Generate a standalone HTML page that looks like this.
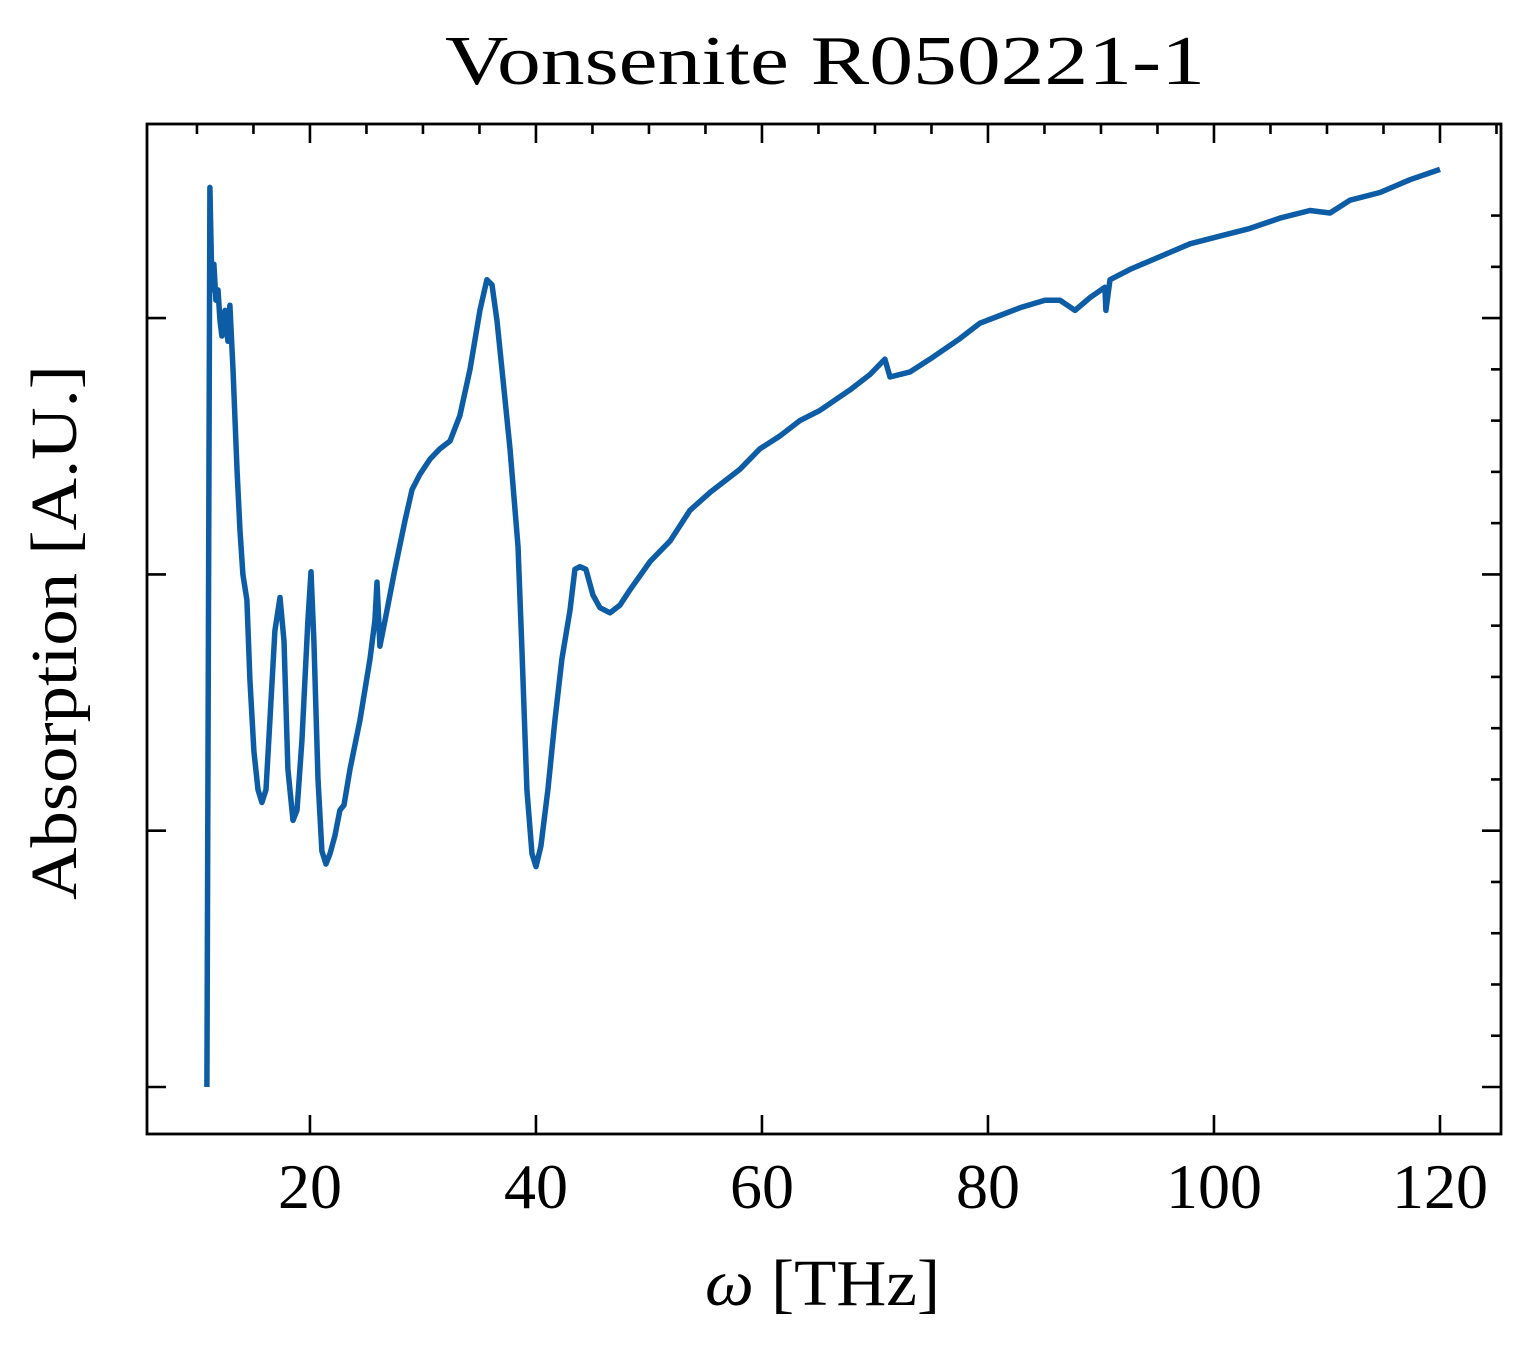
<!DOCTYPE html>
<html><head><meta charset="utf-8"><style>
html,body{margin:0;padding:0;background:#fff;}
svg text{font-family:"Liberation Serif","DejaVu Serif",serif;fill:#000;}
</style></head><body>
<svg id="chart" width="1527" height="1345" viewBox="0 0 1527 1345" xmlns="http://www.w3.org/2000/svg">
<text x="445" y="84" font-size="70" textLength="760" lengthAdjust="spacingAndGlyphs">Vonsenite R050221-1</text>
<text x="705" y="1305" font-size="66" textLength="235" lengthAdjust="spacingAndGlyphs"><tspan font-style="italic">ω</tspan> [THz]</text>
<text transform="translate(76,900) rotate(-90)" font-size="66" textLength="535" lengthAdjust="spacingAndGlyphs">Absorption [A.U.]</text>
<g id="ticks"></g>
<path id="series" fill="none" stroke="#0C5DA5" stroke-width="5.5" stroke-linejoin="round"/>
<rect x="147" y="124" width="1354" height="1010" fill="none" stroke="#000" stroke-width="2.8"/>
</svg>
<script>
const freqs=[10.88,11.15,11.33,11.50,11.68,11.86,12.04,12.21,12.48,12.74,12.92,13.19,13.54,13.81,14.07,14.42,14.69,15.04,15.40,15.75,16.11,16.46,16.90,17.35,17.70,18.05,18.50,18.85,19.29,19.82,20.09,20.35,20.71,21.06,21.42,21.77,22.21,22.65,23.01,23.54,24.42,25.31,25.75,25.93,26.19,26.64,27.52,28.41,29.03,29.73,30.62,31.50,32.39,33.27,34.16,35.04,35.66,36.11,36.55,37.08,37.70,38.41,38.76,39.20,39.65,40.00,40.44,41.06,41.68,42.30,43.01,43.45,43.89,44.42,45.04,45.66,46.55,47.43,48.32,50.09,51.86,53.63,55.40,58.05,59.82,61.59,63.36,65.13,67.79,69.56,70.88,71.33,73.10,74.87,77.52,79.29,81.06,82.83,85.04,86.37,87.70,89.03,90.35,90.44,90.80,92.57,95.22,97.88,100.53,103.19,105.84,108.50,110.27,112.04,114.69,117.35,120.00];
const absorption=[0,3.51,3.11,3.21,3.07,3.11,2.99,2.93,3.03,2.91,3.05,2.80,2.41,2.17,2.00,1.90,1.59,1.31,1.16,1.11,1.16,1.43,1.78,1.91,1.74,1.24,1.04,1.08,1.35,1.82,2.01,1.74,1.20,0.92,0.87,0.91,0.98,1.08,1.10,1.24,1.43,1.67,1.82,1.97,1.72,1.82,2.02,2.21,2.33,2.39,2.45,2.49,2.52,2.62,2.80,3.03,3.15,3.13,2.99,2.76,2.49,2.11,1.71,1.16,0.91,0.86,0.94,1.16,1.43,1.67,1.86,2.02,2.03,2.02,1.92,1.87,1.85,1.88,1.94,2.05,2.13,2.25,2.32,2.41,2.49,2.54,2.60,2.64,2.72,2.78,2.84,2.77,2.79,2.84,2.92,2.98,3.01,3.04,3.07,3.07,3.03,3.08,3.12,3.03,3.15,3.19,3.24,3.29,3.32,3.35,3.39,3.42,3.41,3.46,3.49,3.54,3.58];
const xTickLabels=[20,40,60,80,100,120];
const yMajorTicks=[0,1,2,3];
const X0=147,X1=1501,Y0=124,Y1=1134;
const xMin=5.58,xMax=125.4;
function sx(v){return X0+(v-xMin)/(xMax-xMin)*(X1-X0);}
function sy(v){return 1087-v*256.3;}
const NS="http://www.w3.org/2000/svg";
const g=document.getElementById('ticks');
function line(x1,y1,x2,y2,name){const l=document.createElementNS(NS,'line');
l.setAttribute('x1',x1);l.setAttribute('y1',y1);l.setAttribute('x2',x2);l.setAttribute('y2',y2);
l.setAttribute('stroke','#000');l.setAttribute('stroke-width','2.6');


g.appendChild(l);}
for(let t=10;t<=125;t+=5){const x=sx(t);const major=t%20===0;const L=major?19:10;
if(major)line(x,Y1,x,Y1-L,'x-major-tick');
line(x,Y0,x,Y0+L,major?'x-major-tick-top':'x-minor-tick-top');}
xTickLabels.forEach(t=>{const tx=document.createElementNS(NS,'text');
tx.setAttribute('x',sx(t));tx.setAttribute('y',1208);tx.setAttribute('font-size','64');tx.setAttribute('text-anchor','middle');


tx.textContent=t;g.appendChild(tx);});
for(let v=-0.2;v<=3.6;v+=0.2){const y=sy(v);if(y<Y0||y>Y1)continue;const major=Math.abs(v-Math.round(v))<1e-6;const L=major?19:10;
if(major)line(X0,y,X0+L,y,'y-major-tick');
line(X1,y,X1-L,y,major?'y-major-tick-right':'y-minor-tick-right');}
let d='';freqs.forEach((f,i)=>{d+=(i?'L':'M')+sx(f).toFixed(1)+','+sy(absorption[i]).toFixed(1);});
document.getElementById('series').setAttribute('d',d);
</script>
</body></html>
